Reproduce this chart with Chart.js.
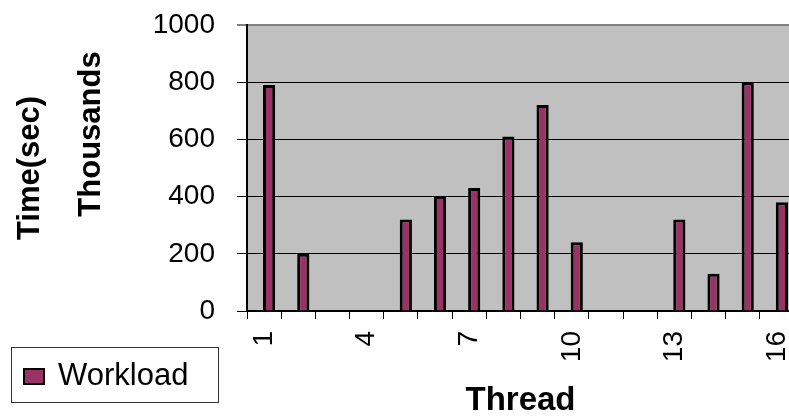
<!DOCTYPE html>
<html>
<head>
<meta charset="utf-8">
<script src="https://cdn.jsdelivr.net/npm/chart.js@4/dist/chart.umd.min.js"></script>
<style>
  html, body { margin: 0; padding: 0; background: #fff; overflow: hidden; }
  #wrap { width: 797px; height: 417px; }
</style>
</head>
<body>
<div id="wrap"><canvas id="workloadChart"></canvas></div>
<script>
// data (values in thousands of seconds)
var threads = ['1', '2', '3', '4', '5', '6', '7', '8', '9', '10', '11', '12', '13', '14', '15', '16'];
var workload = [790, 200, 0, 0, 320, 400, 430, 610, 720, 240, 0, 0, 320, 130, 800, 380];
// empty first series, the Excel chart keeps an unused slot left of each bar
var emptySeries = [null, null, null, null, null, null, null, null, null, null, null, null, null, null, null, null];
var yMin = 0, yMax = 1000, yStep = 200;
var unitsLabel = 'Thousands';

Chart.defaults.font.family = '"Liberation Sans", Arial, sans-serif';
Chart.defaults.color = '#000';

// grey plot area like the old Excel default
var plotBackground = {
    id: 'plotBackground',
    beforeDraw: function(chart) {
        var a = chart.chartArea;
        var ctx = chart.ctx;
        ctx.save();
        ctx.fillStyle = '#c0c0c0';
        ctx.fillRect(a.left, a.top, a.right - a.left, a.bottom - a.top);
        ctx.restore();
    }
};

// Excel display-units label, sits between the axis title and the tick labels
var unitsText = {
    id: 'unitsText',
    afterDraw: function(chart) {
        var ctx = chart.ctx;
        ctx.save();
        ctx.translate(91, 134);
        ctx.rotate(-Math.PI / 2);
        ctx.fillStyle = '#000';
        ctx.font = 'bold 31px "Liberation Sans", Arial, sans-serif';
        ctx.textAlign = 'center';
        ctx.textBaseline = 'middle';
        ctx.fillText(unitsLabel, 0, 0);
        ctx.restore();
    }
};

// boxed legend in the lower left corner
var boxLegend = {
    id: 'boxLegend',
    afterDraw: function(chart) {
        var ds = chart.data.datasets[1];
        var ctx = chart.ctx;
        ctx.save();
        ctx.fillStyle = '#fff';
        ctx.fillRect(11.5, 347.5, 207, 55);
        ctx.strokeStyle = '#333';
        ctx.lineWidth = 1;
        ctx.strokeRect(11.5, 347.5, 207, 55);
        ctx.fillStyle = ds.backgroundColor;
        ctx.fillRect(24, 369, 20, 15);
        ctx.strokeStyle = '#000';
        ctx.lineWidth = 2;
        ctx.strokeRect(24, 369, 20, 15);
        ctx.fillStyle = '#000';
        ctx.font = '31px "Liberation Sans", Arial, sans-serif';
        ctx.textBaseline = 'alphabetic';
        ctx.fillText(ds.label, 58, 385);
        ctx.restore();
    }
};

var workloadChart = new Chart(document.getElementById('workloadChart'), {
    type: 'bar',
    data: {
        labels: threads,
        datasets: [{
            label: '',
            data: emptySeries,
            backgroundColor: 'rgba(0,0,0,0)',
            borderWidth: 0
        }, {
            label: 'Workload',
            data: workload,
            backgroundColor: '#993366',
            borderColor: '#000',
            borderWidth: 3
        }]
    },
    options: {
        responsive: true,
        maintainAspectRatio: false,
        animation: false,
        layout: {
            padding: { top: 25, right: 3, left: 0, bottom: 0 }
        },
        datasets: {
            bar: {
                categoryPercentage: 0.585,
                barPercentage: 1.22
            }
        },
        plugins: {
            legend: { display: false },
            tooltip: { enabled: false }
        },
        scales: {
            x: {
                grid: {
                    drawOnChartArea: false,
                    drawTicks: true,
                    tickLength: 8,
                    tickColor: '#000',
                    offset: true
                },
                border: { display: true, color: '#000', width: 2 },
                ticks: {
                    autoSkip: false,
                    minRotation: 90,
                    maxRotation: 90,
                    padding: 12,
                    font: { size: 28 },
                    callback: function(value, index) {
                        return index % 3 === 0 ? this.getLabelForValue(value) : '';
                    }
                },
                title: {
                    display: true,
                    text: 'Thread',
                    font: { size: 33, weight: 'bold', lineHeight: 1 },
                    padding: { top: 0, bottom: 0 }
                },
                afterFit: function(scale) {
                    scale.height = 106;
                    scale.paddingLeft = 0;
                    scale.paddingRight = 0;
                }
            },
            y: {
                min: yMin,
                max: yMax,
                ticks: {
                    stepSize: yStep,
                    padding: 22,
                    font: { size: 28 },
                    callback: function(value) { return String(value); }
                },
                grid: {
                    color: function(c) { return c.tick && c.tick.value === yMax ? '#808080' : '#000'; },
                    lineWidth: function(c) { return c.tick && c.tick.value === yMax ? 2 : 1; },
                    tickLength: 10,
                    tickColor: '#000',
                    tickWidth: 1
                },
                border: { color: '#000', width: 2 },
                title: {
                    display: true,
                    text: 'Time(sec)',
                    font: { size: 31, weight: 'bold', lineHeight: 1.2 },
                    padding: { top: 12, bottom: 0 }
                },
                afterFit: function(scale) {
                    scale.width = 247;
                    scale.paddingTop = 0;
                    scale.paddingBottom = 0;
                }
            }
        }
    },
    plugins: [plotBackground, unitsText, boxLegend]
});
</script>
</body>
</html>
